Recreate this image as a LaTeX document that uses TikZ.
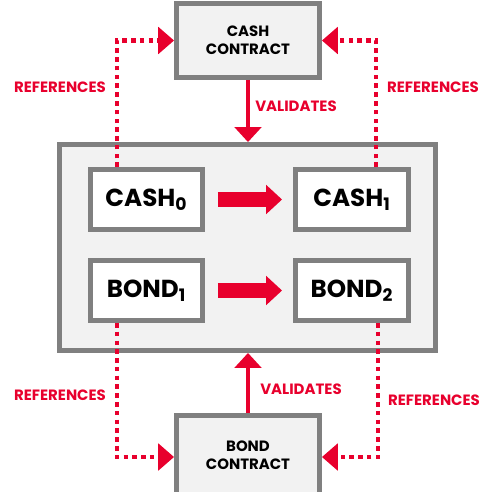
\documentclass[tikz,border=0pt]{standalone}
\usepackage{fontspec}
\setmainfont{Poppins}
\usetikzlibrary{arrows.meta,positioning}
\definecolor{refred}{HTML}{E8002D}
\definecolor{boxgray}{HTML}{808080}
\definecolor{boxlight}{HTML}{F2F2F2}

\begin{document}
\begin{tikzpicture}[x=0.02cm, y=-0.02cm,
    box/.style={draw=boxgray, line width=2.8pt, fill=white,
      minimum width=2.24cm, minimum height=1.2cm,
      font=\fontsize{14}{16}\selectfont\bfseries},
    contract/.style={draw=boxgray, line width=2.8pt, fill=boxlight,
      minimum width=2.86cm, minimum height=1.48cm, align=center,
      font=\fontsize{8.5}{10.5}\selectfont\bfseries},
    arrowtext/.style={text=refred, font=\fontsize{8.5}{10}\selectfont\bfseries},
    refline/.style={refred, line width=2.6pt, dash pattern=on 2.6pt off 2.4pt,
      -{Triangle[length=9pt,width=15pt]}},
    validline/.style={refred, line width=2.8pt, -{Triangle[length=8.5pt,width=15pt]}},
    moveline/.style={refred, line width=8.5pt, -{Triangle[length=9pt,width=16pt]},
      shorten <=0.26cm, shorten >=0.22cm}]
  \clip (0,0) rectangle (500,491);

  \node[contract] (cashcontract) at (248,40.5) {CASH\\CONTRACT};
  \node[draw=boxgray, line width=2.8pt, fill=boxlight,
    minimum width=7.52cm, minimum height=4.12cm] (ledger) at (247.5,247.5) {};
  \node[box] (cash0) at (146.5,199.5) {CASH\textsubscript{0}};
  \node[box, minimum width=2.26cm] (cash1) at (352,199.5) {CASH\textsubscript{1}};
  \node[box] (bond1) at (146.5,290.5) {BOND\textsubscript{1}};
  \node[box, minimum width=2.26cm] (bond2) at (352,290.5) {BOND\textsubscript{2}};
  % runs past the lower edge of the page
  \node[contract, minimum height=1.58cm] (bondcontract) at (248,455) {BOND\\CONTRACT};

  \draw[validline] (cashcontract.south) -- (cashcontract.south |- ledger.north);
  \draw[validline] (bondcontract.north) -- (bondcontract.north |- ledger.south);
  \draw[moveline] (cash0) -- (cash1);
  \draw[moveline] (bond1) -- (bond2);

  \draw[refline] ([xshift=-0.59cm]cash0.north) |- (cashcontract.west);
  \draw[refline] ([xshift=0.48cm]cash1.north) |- (cashcontract.east);
  \draw[refline] ([xshift=-0.59cm]bond1.south) |- ([yshift=-0.04cm]bondcontract.west);
  \draw[refline] ([xshift=0.52cm]bond2.south) |- ([yshift=-0.04cm]bondcontract.east);

  \node[arrowtext] (refcashl) at (60,87) {REFERENCES};
  \node[arrowtext] (refcashr) at (433,87) {REFERENCES};
  \node[arrowtext] (valcash) at (296,106) {VALIDATES};
  \node[arrowtext] (refbondl) at (60,395) {REFERENCES};
  \node[arrowtext] (refbondr) at (434,400) {REFERENCES};
  \node[arrowtext] (valbond) at (301,389) {VALIDATES};
\end{tikzpicture}
\end{document}
